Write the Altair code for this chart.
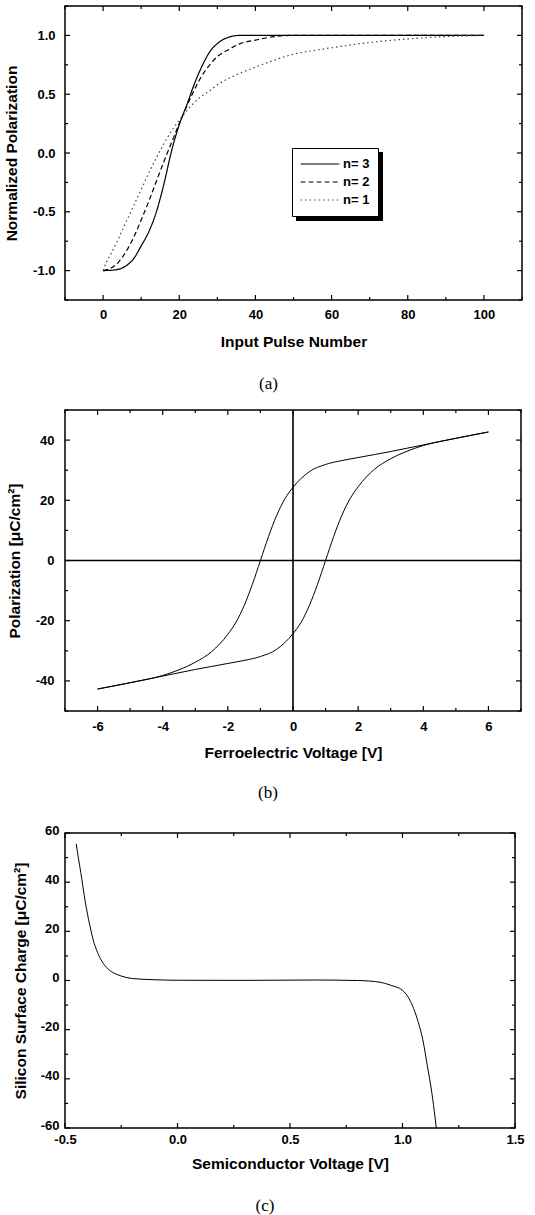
import altair as alt
import pandas as pd

FONT = "Liberation Sans"
SERIF = "Liberation Serif"

# ---------------- Panel (a) data ----------------
n3_x = [0, 3, 6, 8, 10, 12, 14, 16, 18, 20, 22, 24, 26, 28, 30, 33, 36, 40, 50, 60, 70, 80, 90, 100]
n3_y = [-1.0, -0.995, -0.96, -0.9, -0.79, -0.67, -0.5, -0.26, 0.02, 0.24, 0.41, 0.59, 0.74, 0.86, 0.93, 0.985, 1.0, 1.0, 1.0, 1.0, 1.0, 1.0, 1.0, 1.0]
n2_x = [0, 2, 4, 6, 8, 10, 12, 14, 16, 18, 20, 22, 24, 26, 28, 30, 33, 36, 40, 45, 50, 60, 70, 80, 90, 100]
n2_y = [-1.0, -0.98, -0.93, -0.84, -0.72, -0.57, -0.41, -0.24, -0.07, 0.09, 0.25, 0.4, 0.54, 0.66, 0.75, 0.82, 0.88, 0.93, 0.96, 0.99, 1.0, 1.0, 1.0, 1.0, 1.0, 1.0]
n1_x = [0, 1, 2, 4, 6, 8, 10, 12, 14, 16, 18, 20, 22, 25, 28, 30, 35, 40, 45, 50, 55, 60, 70, 80, 90, 100]
n1_y = [-1.0, -0.92, -0.86, -0.73, -0.59, -0.45, -0.31, -0.17, -0.04, 0.08, 0.19, 0.28, 0.36, 0.46, 0.53, 0.58, 0.665, 0.73, 0.79, 0.84, 0.87, 0.895, 0.94, 0.97, 0.99, 1.0]
series_names = ["n= 3", "n= 2", "n= 1"]

a_xmaj = [0, 20, 40, 60, 80, 100]
a_xmin = [-10, 10, 30, 50, 70, 90, 110]
a_ymaj = [-1.0, -0.5, 0.0, 0.5, 1.0]
a_ymin = [-1.25, -0.75, -0.25, 0.25, 0.75, 1.25]

# ---------------- Panel (b) data ----------------
up_v = [6, 5, 4, 3.5, 3, 2.5, 2, 1.5, 1, 0.5, 0, -0.25, -0.5, -0.75, -1, -1.25, -1.5, -1.75, -2, -2.5, -3, -3.5, -4, -5, -6]
up_p = [42.7, 40.6, 38.4, 37.3, 36.2, 35.2, 34.2, 33.2, 31.9, 29.5, 24.3, 20.5, 15.0, 8.0, 0.0, -8.0, -15.0, -20.5, -24.5, -30.3, -33.8, -36.3, -38.2, -40.6, -42.7]
lo_v = [-6, -5, -4, -3.5, -3, -2.5, -2, -1.5, -1, -0.5, 0, 0.25, 0.5, 0.75, 1, 1.25, 1.5, 1.75, 2, 2.5, 3, 3.5, 4, 5, 6]
lo_p = [-42.7, -40.6, -38.4, -37.3, -36.2, -35.2, -34.2, -33.2, -31.9, -29.5, -24.3, -20.5, -15.0, -8.0, 0.0, 8.0, 15.0, 20.5, 24.5, 30.3, 33.8, 36.3, 38.2, 40.6, 42.7]
b_xmaj = [-6, -4, -2, 0, 2, 4, 6]
b_xmin = [-7, -5, -3, -1, 1, 3, 5, 7]
b_ymaj = [-40, -20, 0, 20, 40]
b_ymin = [-50, -30, -10, 10, 30, 50]
zero_line = [0]

# ---------------- Panel (c) data ----------------
c_v = [-0.45, -0.44, -0.43, -0.42, -0.41, -0.40, -0.39, -0.38, -0.37, -0.36, -0.35, -0.33, -0.30, -0.27, -0.25, -0.2, -0.1, 0.0, 0.3, 0.6, 0.8, 0.9, 0.95, 1.0, 1.03, 1.05, 1.07, 1.09, 1.11, 1.13, 1.145, 1.15]
c_q = [55.6, 49.5, 44.0, 38.0, 32.0, 27.0, 22.5, 18.5, 15.0, 12.5, 10.2, 7.0, 4.0, 2.5, 1.8, 0.8, 0.3, 0.1, 0.05, 0.2, 0.0, -0.7, -2.0, -4.0, -7.5, -11.5, -17.0, -24.0, -34.5, -45.5, -56.0, -60.0]
c_xmaj = [-0.5, 0.0, 0.5, 1.0, 1.5]
c_xmin = [-0.25, 0.25, 0.75, 1.25]
c_ymaj = [-60, -40, -20, 0, 20, 40, 60]
c_ymin = [-50, -30, -10, 10, 30, 50]

MAJ, MIN = 5, 3


def axis(values, title, fmt=None, lp=8, tp=12, lo=0):
    kw = dict(values=values, title=title, tickSize=0, domain=False, grid=False,
              labelFont=FONT, labelFontSize=13, labelFontWeight="bold", labelColor="black",
              titleFont=FONT, titleFontSize=15.5, titleFontWeight="bold", titleColor="black",
              labelFlush=False, labelPadding=lp, titlePadding=tp, labelOffset=lo,
              labelExpr="replace(datum.label, '\u2212', '-')")
    if fmt:
        kw["format"] = fmt
    return alt.Axis(**kw)


def tick_layers(xmaj, xmin, ymaj, ymin, xdom, ydom, W, H, xax, yax):
    layers = []
    xs = alt.Scale(domain=xdom, nice=False, zero=False)
    ys = alt.Scale(domain=ydom, nice=False, zero=False)
    for vals, L in ((xmaj, MAJ), (xmin, MIN)):
        df = pd.DataFrame({"t": vals})
        X = alt.X("t:Q", scale=xs, axis=xax)
        layers.append(alt.Chart(df).mark_rule(color="black", strokeWidth=1.2).encode(
            x=X, y=alt.value(H), y2=alt.value(H - L)))
        layers.append(alt.Chart(df).mark_rule(color="black", strokeWidth=1.2).encode(
            x=X, y=alt.value(0), y2=alt.value(L)))
    for vals, L in ((ymaj, MAJ), (ymin, MIN)):
        df = pd.DataFrame({"t": vals})
        Y = alt.Y("t:Q", scale=ys, axis=yax)
        layers.append(alt.Chart(df).mark_rule(color="black", strokeWidth=1.2).encode(
            y=Y, x=alt.value(0), x2=alt.value(L)))
        layers.append(alt.Chart(df).mark_rule(color="black", strokeWidth=1.2).encode(
            y=Y, x=alt.value(W), x2=alt.value(W - L)))
    return layers


def caption(text, offset, dx):
    return alt.TitleParams(text=text, orient="bottom", anchor="middle", font=SERIF,
                           fontSize=17, fontWeight="normal", color="black",
                           offset=offset, dx=dx)


# ---------------- Panel (a) ----------------
WA, HA = 457, 294
a_dom_x, a_dom_y = [-10, 110], [-1.25, 1.25]
ax_a_x = axis(a_xmaj, "Input Pulse Number", lp=8, tp=13)
ax_a_y = axis(a_ymaj, "Normalized Polarization", ".1f", lp=10, tp=13)
rows = []
for name, xs, ys in (("n= 3", n3_x, n3_y), ("n= 2", n2_x, n2_y), ("n= 1", n1_x, n1_y)):
    for xv, yv in zip(xs, ys):
        rows.append({"pulse": xv, "pol": yv, "n": name})
dfa = pd.DataFrame(rows)

leg = alt.Legend(orient="none", legendX=227, legendY=142, title=None,
                 fillColor="white", strokeColor="black", padding=8,
                 symbolType="stroke", symbolSize=1500, symbolStrokeWidth=1.2,
                 clipHeight=16, labelFont=FONT, labelFontSize=13, labelFontWeight="bold",
                 labelColor="black", rowPadding=2, symbolOffset=0, labelOffset=3)
lines_a = alt.Chart(dfa).mark_line(strokeWidth=1.2, interpolate="monotone").encode(
    x=alt.X("pulse:Q", scale=alt.Scale(domain=a_dom_x, nice=False, zero=False), axis=ax_a_x),
    y=alt.Y("pol:Q", scale=alt.Scale(domain=a_dom_y, nice=False, zero=False), axis=ax_a_y),
    color=alt.Color("n:N", scale=alt.Scale(domain=series_names, range=["black", "black", "#444"]),
                    legend=leg),
    strokeDash=alt.StrokeDash("n:N", scale=alt.Scale(domain=series_names,
                                                     range=[[1, 0], [5, 3], [1.5, 3]]),
                              legend=leg),
    detail="n:N",
)
shadow = alt.Chart(pd.DataFrame({"s": [0]})).mark_rect(color="black").encode(
    x=alt.value(231), x2=alt.value(318), y=alt.value(146), y2=alt.value(215))

panel_a = alt.layer(shadow, lines_a,
                    *tick_layers(a_xmaj, a_xmin, a_ymaj, a_ymin, a_dom_x, a_dom_y, WA, HA, ax_a_x, ax_a_y)
                    ).properties(width=WA, height=HA, title=caption("(a)", 26, -25))

# ---------------- Panel (b) ----------------
WB, HB = 456, 301
b_dom_x, b_dom_y = [-7, 7], [-50, 50]
ax_b_x = axis(b_xmaj, "Ferroelectric Voltage [V]", lp=9, tp=12)
ax_b_y = axis(b_ymaj, "Polarization [\u03bcC/cm\u00b2]", lp=11, tp=13)
rows = []
for br, vs, ps in (("up", up_v, up_p), ("lo", lo_v, lo_p)):
    for v, p in zip(vs, ps):
        rows.append({"v": v, "p": p, "branch": br})
dfb = pd.DataFrame(rows)
lines_b = alt.Chart(dfb).mark_line(color="black", strokeWidth=1, interpolate="monotone").encode(
    x=alt.X("v:Q", scale=alt.Scale(domain=b_dom_x, nice=False, zero=False), axis=ax_b_x),
    y=alt.Y("p:Q", scale=alt.Scale(domain=b_dom_y, nice=False, zero=False), axis=ax_b_y),
    detail="branch:N",
)
zx = alt.Chart(pd.DataFrame({"z": zero_line})).mark_rule(color="black", strokeWidth=1.6).encode(
    x=alt.X("z:Q", scale=alt.Scale(domain=b_dom_x, nice=False, zero=False), axis=ax_b_x))
zy = alt.Chart(pd.DataFrame({"z": zero_line})).mark_rule(color="black", strokeWidth=1.6).encode(
    y=alt.Y("z:Q", scale=alt.Scale(domain=b_dom_y, nice=False, zero=False), axis=ax_b_y))
panel_b = alt.layer(lines_b, zx, zy,
                    *tick_layers(b_xmaj, b_xmin, b_ymaj, b_ymin, b_dom_x, b_dom_y, WB, HB, ax_b_x, ax_b_y)
                    ).properties(width=WB, height=HB, title=caption("(b)", 24, -25))

# ---------------- Panel (c) ----------------
WC, HC = 450, 295
c_dom_x, c_dom_y = [-0.5, 1.5], [-60, 60]
ax_c_x = axis(c_xmaj, "Semiconductor Voltage [V]", ".1f", lp=5, tp=10)
ax_c_y = axis(c_ymaj, "Silicon Surface Charge [\u03bcC/cm\u00b2]", lp=6, tp=12, lo=-3)
dfc = pd.DataFrame({"v": c_v, "q": c_q})
lines_c = alt.Chart(dfc).mark_line(color="black", strokeWidth=1, interpolate="monotone", clip=True).encode(
    x=alt.X("v:Q", scale=alt.Scale(domain=c_dom_x, nice=False, zero=False), axis=ax_c_x),
    y=alt.Y("q:Q", scale=alt.Scale(domain=c_dom_y, nice=False, zero=False), axis=ax_c_y),
)
panel_c = alt.layer(lines_c,
                    *tick_layers(c_xmaj, c_xmin, c_ymaj, c_ymin, c_dom_x, c_dom_y, WC, HC, ax_c_x, ax_c_y)
                    ).properties(width=WC, height=HC, title=caption("(c)", 26, -25))

chart = alt.vconcat(alt.vconcat(panel_a, panel_b, spacing=15), panel_c, spacing=21).properties(
    padding={"left": 3, "top": 4, "right": 0, "bottom": 0}, background="white"
).configure_view(stroke="black", strokeWidth=1.5)

chart.save("out.html", embed_options={"renderer": "svg", "actions": False})
